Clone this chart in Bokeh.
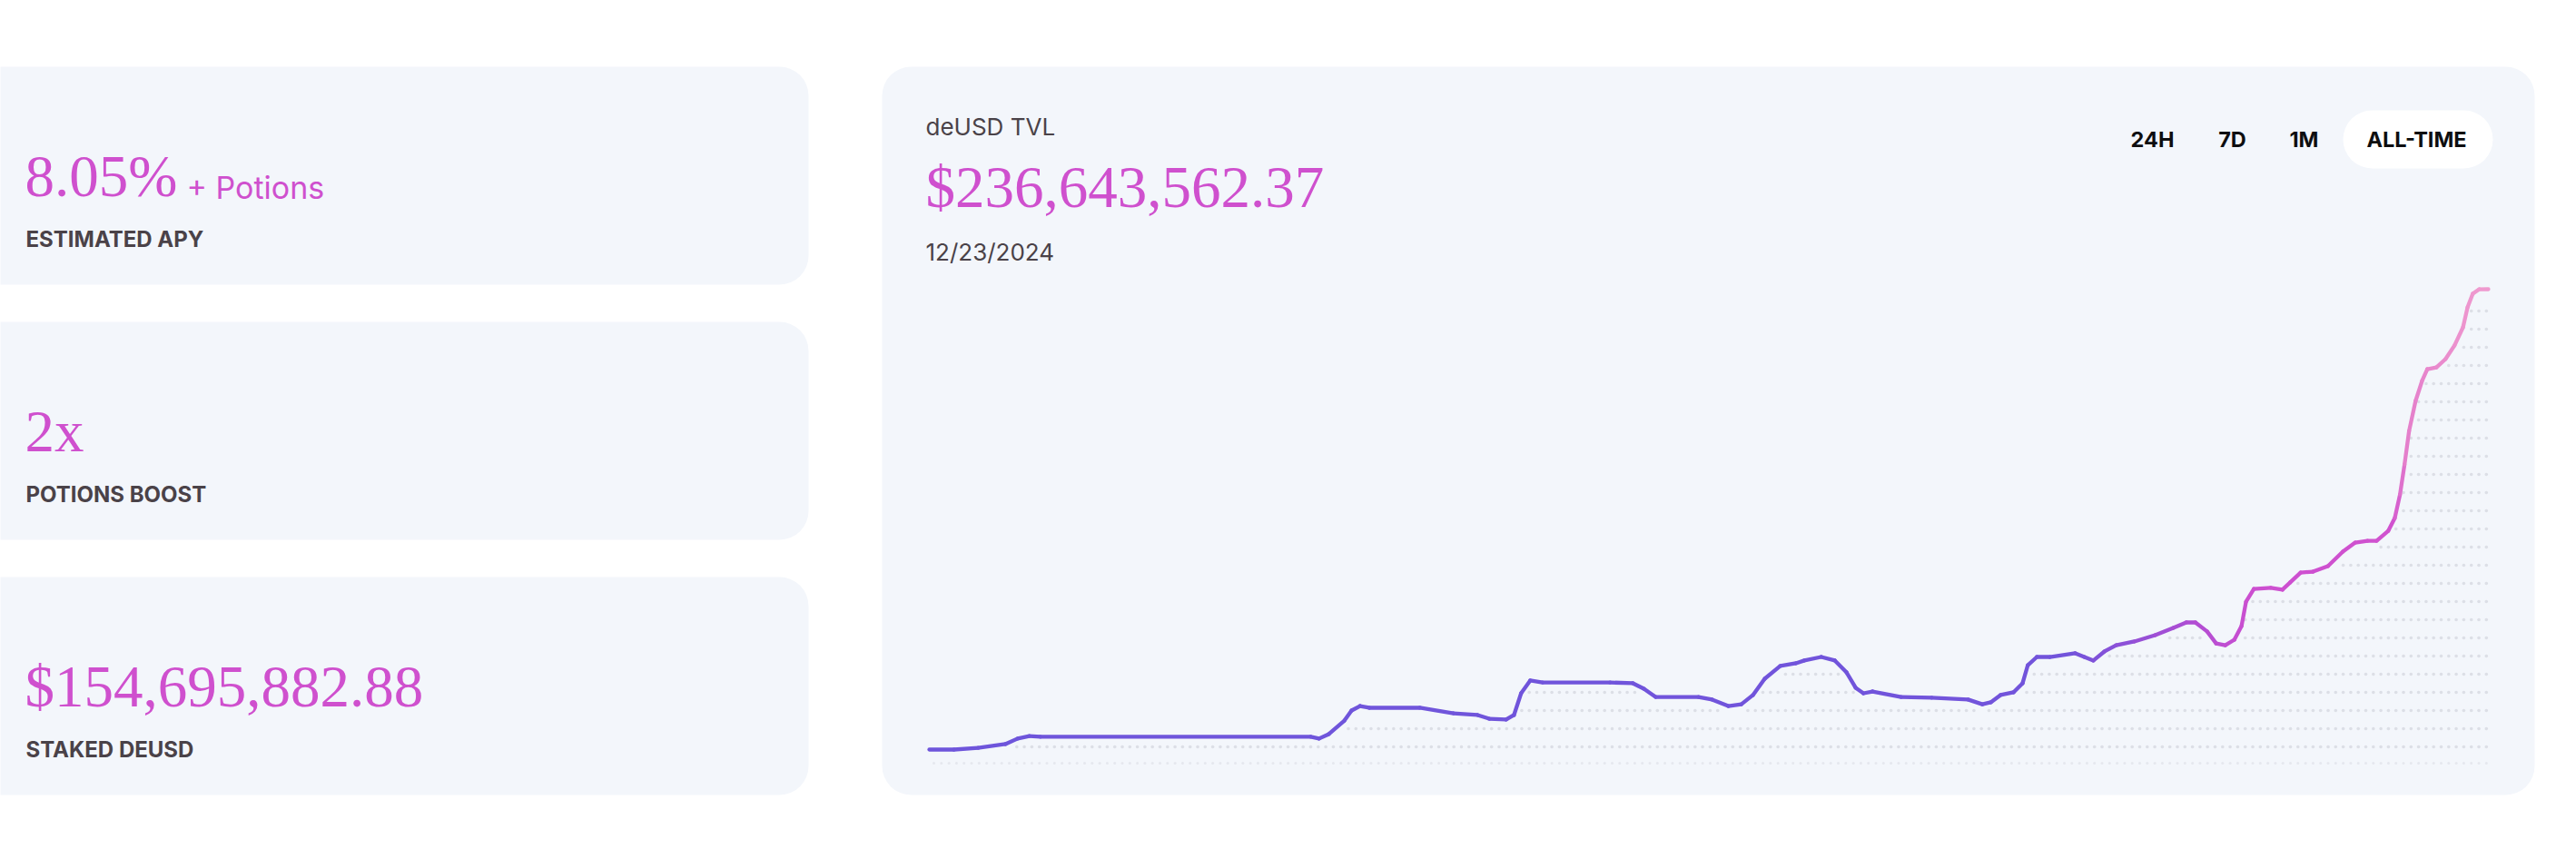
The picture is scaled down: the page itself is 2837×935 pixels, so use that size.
import numpy as np
from bokeh.plotting import figure
from bokeh.models import Range1d, BoxAnnotation, Label, ColumnDataSource
from bokeh.embed import file_html
from bokeh.resources import INLINE

# ---------------- data ----------------
stat_values = ["8.05%", "2x", "$154,695,882.88"]
stat_suffix = ["+ Potions", "", ""]
stat_labels = ["ESTIMATED APY", "POTIONS BOOST", "STAKED DEUSD"]

chart_title = "deUSD TVL"
chart_value = "$236,643,562.37"
chart_date = "12/23/2024"
range_buttons = ["24H", "7D", "1M", "ALL-TIME"]
active_button = "ALL-TIME"

# days since launch, TVL in millions of USD
day = [0.0, 3.8, 7.5, 11.7, 13.6, 15.4, 17.1, 58.7, 60.0, 61.5, 63.9, 65.0, 66.3, 67.7,
       75.5, 80.7, 84.4, 86.2, 88.8, 90.0, 91.1, 92.5, 94.4, 104.8, 108.3, 110.0, 111.8,
       118.4, 120.5, 123.0, 125.0, 126.8, 128.6, 131.0, 133.4, 134.7, 137.3, 139.4, 141.2,
       142.6, 143.8, 145.2, 149.6, 154.3, 159.9, 162.1, 163.4, 164.9, 166.9, 168.3, 169.1,
       170.5, 172.5, 176.4, 177.8, 179.2, 180.9, 182.7, 185.5, 188.7, 191.5, 193.5, 194.9,
       196.7, 198.1, 199.5, 200.9, 202.0, 202.7, 203.9, 206.5, 208.3, 209.5, 211.1, 213.0,
       215.3, 217.6, 219.5, 221.4, 222.8, 224.6, 225.6, 226.4, 227.1, 227.8, 228.8, 229.8,
       230.6, 232.0, 233.4, 234.8, 236.1, 236.8, 237.6, 238.6, 240.0]
tvl_musd = [2.0, 2.0, 2.9, 4.8, 7.6, 8.9, 8.5, 8.5, 7.6, 9.9, 16.8, 21.9, 24.2, 23.3,
            23.3, 20.5, 19.6, 17.7, 17.3, 19.6, 30.7, 37.2, 36.2, 36.2, 35.8, 33.0, 28.8,
            28.8, 27.5, 24.2, 25.1, 29.8, 38.1, 44.6, 46.0, 47.4, 49.2, 47.4, 41.3,
            33.5, 30.7, 31.6, 28.8, 28.4, 27.5, 25.1, 26.1, 29.8, 31.2, 35.8, 45.0,
            49.2, 49.2, 51.1, 49.2, 47.4, 52.0, 55.2, 57.1, 60.3, 64.0, 66.8, 66.8,
            62.2, 56.1, 55.2, 58.0, 64.9, 77.4, 83.9, 84.4, 83.5, 87.2, 92.2, 92.7,
            95.5, 102.9, 107.5, 108.4, 108.4, 113.5, 120.0, 132.0, 147.3, 164.4, 179.7, 189.9,
            195.9, 196.8, 201.0, 208.0, 217.2, 227.4, 234.3, 236.6, 236.64]

# ---------------- page / layout ----------------
W, H = 2821, 919
MAGENTA = "#cf50ce"
DARK = "#4a4248"
CARD = "#f3f6fb"
SERIF = "Liberation Serif"
SANS = "Inter"

p = figure(width=W, height=H, x_range=Range1d(0, W), y_range=Range1d(H, 0),
           output_backend="svg", toolbar_location=None, min_border=0)
p.axis.visible = False
p.grid.visible = False
p.outline_line_color = None
p.background_fill_color = "white"
p.border_fill_color = "white"


def text(x, baseline, s, font, size, color, bold=False, align="left", k=0.36):
    # Label places the alphabetic baseline slightly below y: compensate
    p.add_layout(Label(x=x, y=baseline - k * size, text=s, text_font=font,
                       text_font_size=f"{size}px", text_color=color,
                       text_font_style="bold" if bold else "normal",
                       text_baseline="alphabetic", text_align=align))


# cards
card_tops = [73, 354, 635]
for t in card_tops:
    p.add_layout(BoxAnnotation(left=-60, right=890, top=t, bottom=t + 240,
                               fill_color=CARD, fill_alpha=1.0, line_color=None,
                               border_radius=32, level="underlay"))
p.add_layout(BoxAnnotation(left=971, right=2791, top=73, bottom=875,
                           fill_color=CARD, fill_alpha=1.0, line_color=None,
                           border_radius=32, level="underlay"))

# stat cards text
for i, t in enumerate(card_tops):
    text(27, t + 146, stat_values[i], SERIF, 65, MAGENTA, k=0.40)
    if stat_suffix[i]:
        text(205, t + 145, stat_suffix[i], SANS, 34, MAGENTA)
    text(28, t + 199, stat_labels[i], SANS, 24, DARK, bold=True)

# chart header
text(1019, 148, chart_title, SANS, 26, DARK)
text(1019, 231, chart_value, SERIF, 65, MAGENTA, k=0.40)
text(1019, 286, chart_date, SANS, 26, DARK)

# range buttons
btn_x = [2370, 2458, 2537, 2661]
p.add_layout(BoxAnnotation(left=2580, right=2745, top=121, bottom=185, fill_color="white",
                           fill_alpha=1.0, line_color=None, border_radius=32,
                           level="underlay"))
for bx, b in zip(btn_x, range_buttons):
    text(bx, 161, b, SANS, 23.5, "#0e0e10", bold=True, align="center")

# ---------------- line chart (own scales) ----------------
X0 = 1023.0          # screen x of day 0
PX_DAY = 7.154       # pixels per day
Y0 = 825.0           # screen y of first value
M_PER_PX = 0.4628    # millions per pixel
v0 = tvl_musd[0]
p.extra_x_ranges = {"days": Range1d(-X0 / PX_DAY, (W - X0) / PX_DAY)}
p.extra_y_ranges = {"tvl": Range1d(v0 - (H - Y0) * M_PER_PX, v0 + Y0 * M_PER_PX)}

d = np.array(day)
v = np.array(tvl_musd)

# dotted texture beneath the curve
col_step = 8.3 / PX_DAY
row_step = 20 * M_PER_PX
cols = np.arange(0.7, d[-1] + 0.01, col_step)
under = np.interp(cols, d, v)
dx, dy = [], []
r = v0 + 3 * M_PER_PX
while r < v.max():
    m = r <= under - 3.6
    dx.extend(cols[m]); dy.extend([r] * int(m.sum()))
    r += row_step
p.scatter(dx, dy, size=3.6, marker="circle", fill_color="#c6c7d1", line_color=None,
          fill_alpha=0.5, x_range_name="days", y_range_name="tvl")
rb = v0 - 15 * M_PER_PX
p.scatter(list(cols), [rb] * len(cols), size=3.0, marker="circle", fill_color="#c6c7d1",
          line_color=None, fill_alpha=0.3, x_range_name="days", y_range_name="tvl")

# gradient line
stops_d = [0, 175.7, 195.3, 203.7, 225.3, 227.4, 240]
stops_c = [(110, 85, 219), (114, 84, 219), (178, 77, 211), (204, 79, 208),
           (208, 82, 207), (228, 127, 203), (240, 156, 207)]
mid = (d[:-1] + d[1:]) / 2
cols_hex = []
for m_ in mid:
    rgb = [int(round(np.interp(m_, stops_d, [c[k] for c in stops_c]))) for k in range(3)]
    cols_hex.append("#%02x%02x%02x" % tuple(rgb))
src = ColumnDataSource(dict(x0=d[:-1], y0=v[:-1], x1=d[1:], y1=v[1:], c=cols_hex))
p.segment("x0", "y0", "x1", "y1", source=src, line_color="c", line_width=4.3,
          line_cap="round", x_range_name="days", y_range_name="tvl")

open("out.html", "w").write(file_html(p, INLINE))
